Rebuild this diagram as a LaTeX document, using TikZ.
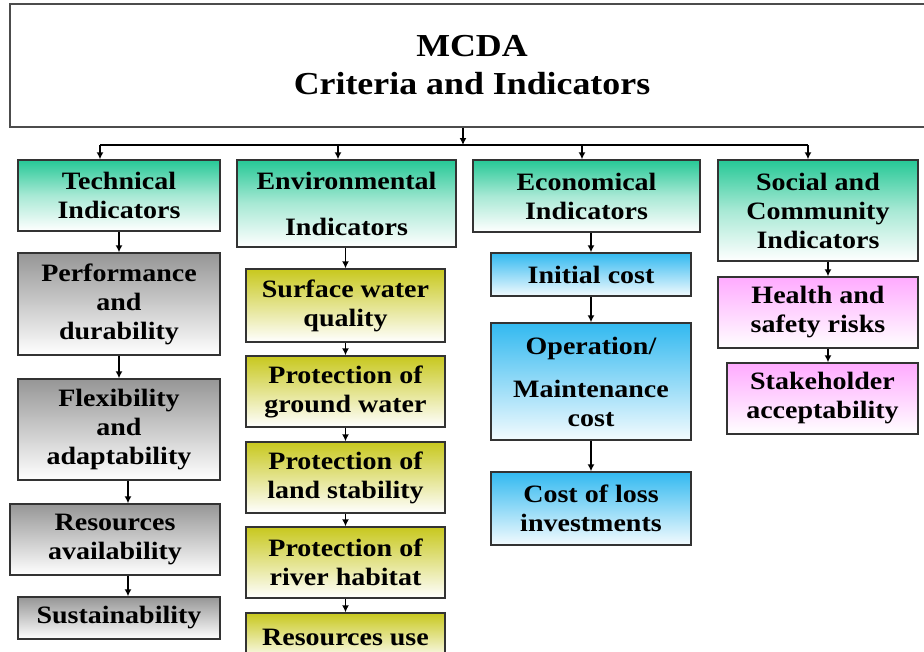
\documentclass[tikz,border=0pt]{standalone}
\usepackage{fontspec}
\setmainfont[FakeStretch=1.12]{Liberation Serif}
\usetikzlibrary{arrows.meta}
\definecolor{hdrgreen}{RGB}{38,200,150}
\definecolor{techgray}{RGB}{150,150,150}
\definecolor{envolive}{RGB}{200,200,30}
\definecolor{econblue}{RGB}{50,185,240}
\definecolor{socpink}{RGB}{255,170,255}
\begin{document}
\begin{tikzpicture}[x=1pt, y=-1pt,
	box/.style={draw=black!80, line width=1.4pt, align=center, inner sep=0pt, font=\fontsize{25}{29}\selectfont\bfseries},
	title/.style={box, draw=black!70, fill=white, font=\fontsize{32}{38}\selectfont\bfseries},
	hdr/.style={box, top color=hdrgreen, bottom color=white, middle color=hdrgreen!40!white},
	techbox/.style={box, top color=techgray, bottom color=white},
	envbox/.style={box, top color=envolive, bottom color=white},
	econbox/.style={box, top color=econblue, bottom color=econblue!6},
	socbox/.style={box, top color=socpink, bottom color=white},
	link/.style={line width=1.6pt, -{Latex[length=7pt,width=7pt]}}]
		\useasboundingbox (0,0) rectangle (924,651);
		\node[title, minimum width=924, minimum height=123] (mcda) at (472,65.5) {MCDA\\Criteria and Indicators};
		% criteria
		\node[hdr, minimum width=202, minimum height=71] (tech) at (119,195.5) {Technical\\Indicators};
		\node[hdr, minimum width=219, minimum height=87] (env) at (346.5,203.5) {Environmental\\[17pt]Indicators};
		\node[hdr, minimum width=227, minimum height=72] (econ) at (586.5,196) {Economical\\Indicators};
		\node[hdr, minimum width=200, minimum height=101] (soc) at (818,210.5) {Social and\\Community\\Indicators};
		% technical
		\node[techbox, minimum width=202, minimum height=102] (perf) at (119,304) {Performance\\and\\durability};
		\node[techbox, minimum width=202, minimum height=101] (flex) at (119,429.5) {Flexibility\\and\\adaptability};
		\node[techbox, minimum width=210, minimum height=71] (resav) at (115,539.5) {Resources\\availability};
		\node[techbox, minimum width=202, minimum height=42] (sust) at (119,618) {Sustainability};
		% environmental
		\node[envbox, minimum width=199, minimum height=73] (surf) at (345.5,305.5) {Surface water\\quality};
		\node[envbox, minimum width=199, minimum height=71] (ground) at (345.5,391.5) {Protection of\\ground water};
		\node[envbox, minimum width=199, minimum height=71] (land) at (345.5,477.5) {Protection of\\land stability};
		\node[envbox, minimum width=199, minimum height=71] (river) at (345.5,562.5) {Protection of\\river habitat};
		\node[envbox, minimum width=199, minimum height=48] (resuse) at (345.5,637) {Resources use};
		% economical
		\node[econbox, minimum width=200, minimum height=43] (init) at (591,274.5) {Initial cost};
		\node[econbox, minimum width=200, minimum height=117] (oper) at (591,381.5) {Operation/\\[14pt]Maintenance\\cost};
		\node[econbox, minimum width=200, minimum height=73] (loss) at (591,508.5) {Cost of loss\\investments};
		% social
		\node[socbox, minimum width=200, minimum height=71] (health) at (818,312.5) {Health and\\safety risks};
		\node[socbox, minimum width=191, minimum height=71] (stake) at (822.5,398.5) {Stakeholder\\acceptability};
		% bus
		\coordinate (b0) at (463,145);
		\coordinate (b1) at (100,145);
		\coordinate (b2) at (338,145);
		\coordinate (b3) at (582,145);
		\coordinate (b4) at (808,145);
		\draw[line width=1.6pt] (b1)--(b4);
		\draw[link] (mcda.south -| b0) -- (b0);
		\draw[link] (b1) -- (b1 |- tech.north);
		\draw[link] (b2) -- (b2 |- env.north);
		\draw[link] (b3) -- (b3 |- econ.north);
		\draw[link] (b4) -- (b4 |- soc.north);
		% columns
		\coordinate (t1) at ([xshift=9]flex.south);
		\coordinate (s1) at ([xshift=10]soc.south);
		\draw[link] (tech.south) -- (tech.south |- perf.north);
		\draw[link] (perf.south) -- (perf.south |- flex.north);
		\draw[link] (t1) -- (t1 |- resav.north);
		\draw[link] (t1 |- resav.south) -- (t1 |- sust.north);
		\draw[link] (surf.north |- env.south) -- (surf.north);
		\draw[link] (surf.south) -- (ground.north);
		\draw[link] (ground.south) -- (land.north);
		\draw[link] (land.south) -- (river.north);
		\draw[link] (river.south) -- (resuse.north);
		\draw[link] (init.north |- econ.south) -- (init.north);
		\draw[link] (init.south) -- (oper.north);
		\draw[link] (oper.south) -- (loss.north);
		\draw[link] (s1) -- (s1 |- health.north);
		\draw[link] (s1 |- health.south) -- (s1 |- stake.north);
	\end{tikzpicture}
\end{document}
